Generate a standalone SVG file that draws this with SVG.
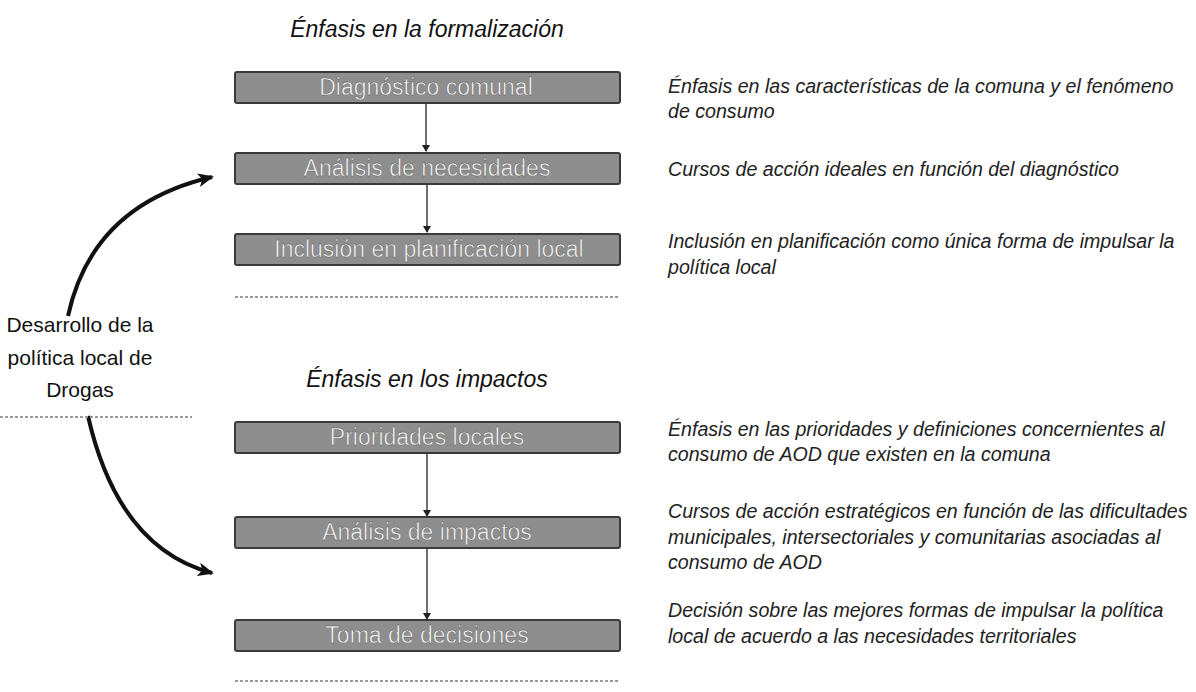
<svg xmlns="http://www.w3.org/2000/svg" width="1196" height="692" viewBox="0 0 1196 692">
<style>
.box{fill:#8e8e8e;stroke:#3a3a3a;stroke-width:2}
.bt{font-family:"Liberation Sans",Arial,sans-serif;font-size:23px;fill:#f4f4f4;text-anchor:middle;stroke:#555;stroke-width:0.4}
.ttl{font-family:"Liberation Sans",Arial,sans-serif;font-size:23px;font-style:italic;fill:#111;text-anchor:middle}
.desc{font-family:"Liberation Sans",Arial,sans-serif;font-size:19.6px;font-style:italic;fill:#222}
.left{font-family:"Liberation Sans",Arial,sans-serif;font-size:21px;fill:#111;text-anchor:middle}
.sep{stroke:#999;stroke-width:2;stroke-dasharray:3 2}
.ln{stroke:#222;stroke-width:1.3;fill:none}
.curve{stroke:#111;stroke-width:4;fill:none}
</style>
<defs>
<marker id="sa" markerWidth="8" markerHeight="8" refX="6" refY="4" orient="auto" markerUnits="userSpaceOnUse">
<path d="M0,0 L7,4 L0,8 Z" fill="#222"/>
</marker>
<marker id="ba" markerWidth="18" markerHeight="16" refX="14" refY="8" orient="auto" markerUnits="userSpaceOnUse">
<path d="M0,1 L16,8 L0,15 L4,8 Z" fill="#111"/>
</marker>
</defs>
<rect width="1196" height="692" fill="#fff"/>
<text class="ttl" x="427" y="37">Énfasis en la formalización</text>
<text class="ttl" x="427" y="387">Énfasis en los impactos</text>
<g id="connectors">
<line class="ln" x1="426" y1="103" x2="426" y2="151" marker-end="url(#sa)"/>
<line class="ln" x1="427" y1="185" x2="427" y2="232" marker-end="url(#sa)"/>
<line class="ln" x1="427" y1="454" x2="427" y2="516" marker-end="url(#sa)"/>
<line class="ln" x1="427" y1="549" x2="427" y2="619" marker-end="url(#sa)"/>
<path class="curve" d="M68,316 Q92,205 212,177" marker-end="url(#ba)"/>
<path class="curve" d="M88,416 Q118,548 212,573" marker-end="url(#ba)"/>
</g>
<line class="sep" x1="235" y1="297" x2="620" y2="297"/>
<line class="sep" x1="0" y1="417" x2="192" y2="417" stroke-dasharray="2 2"/>
<line class="sep" x1="235" y1="681" x2="620" y2="681"/>
<g id="n1"><rect class="box" x="235" y="72" width="385" height="31" rx="2"/><text class="bt" x="426" y="95">Diagnóstico comunal</text></g>
<g id="n2"><rect class="box" x="235" y="153" width="385" height="31" rx="2"/><text class="bt" x="427" y="176">Análisis de necesidades</text></g>
<g id="n3"><rect class="box" x="235" y="234" width="385" height="31" rx="2"/><text class="bt" x="429" y="257">Inclusión en planificación local</text></g>
<g id="n4"><rect class="box" x="235" y="422" width="385" height="31" rx="2"/><text class="bt" x="427" y="445">Prioridades locales</text></g>
<g id="n5"><rect class="box" x="235" y="517" width="385" height="31" rx="2"/><text class="bt" x="427" y="540">Análisis de impactos</text></g>
<g id="n6"><rect class="box" x="235" y="620" width="385" height="31" rx="2"/><text class="bt" x="427" y="643">Toma de decisiones</text></g>
<g id="left">
<text class="left" x="80" y="332">Desarrollo de la</text>
<text class="left" x="80" y="365">política local de</text>
<text class="left" x="80" y="397">Drogas</text>
</g>
<g id="descs">
<text class="desc" x="668" y="93">Énfasis en las características de la comuna y el fenómeno</text>
<text class="desc" x="668" y="118">de consumo</text>
<text class="desc" x="668" y="176">Cursos de acción ideales en función del diagnóstico</text>
<text class="desc" x="668" y="248">Inclusión en planificación como única forma de impulsar la</text>
<text class="desc" x="668" y="274">política local</text>
<text class="desc" x="668" y="436">Énfasis en las prioridades y definiciones concernientes al</text>
<text class="desc" x="668" y="461">consumo de AOD que existen en la comuna</text>
<text class="desc" x="668" y="518">Cursos de acción estratégicos en función de las dificultades</text>
<text class="desc" x="668" y="544">municipales, intersectoriales y comunitarias asociadas al</text>
<text class="desc" x="668" y="569">consumo de AOD</text>
<text class="desc" x="668" y="617">Decisión sobre las mejores formas de impulsar la política</text>
<text class="desc" x="668" y="643">local de acuerdo a las necesidades territoriales</text>
</g>
</svg>
